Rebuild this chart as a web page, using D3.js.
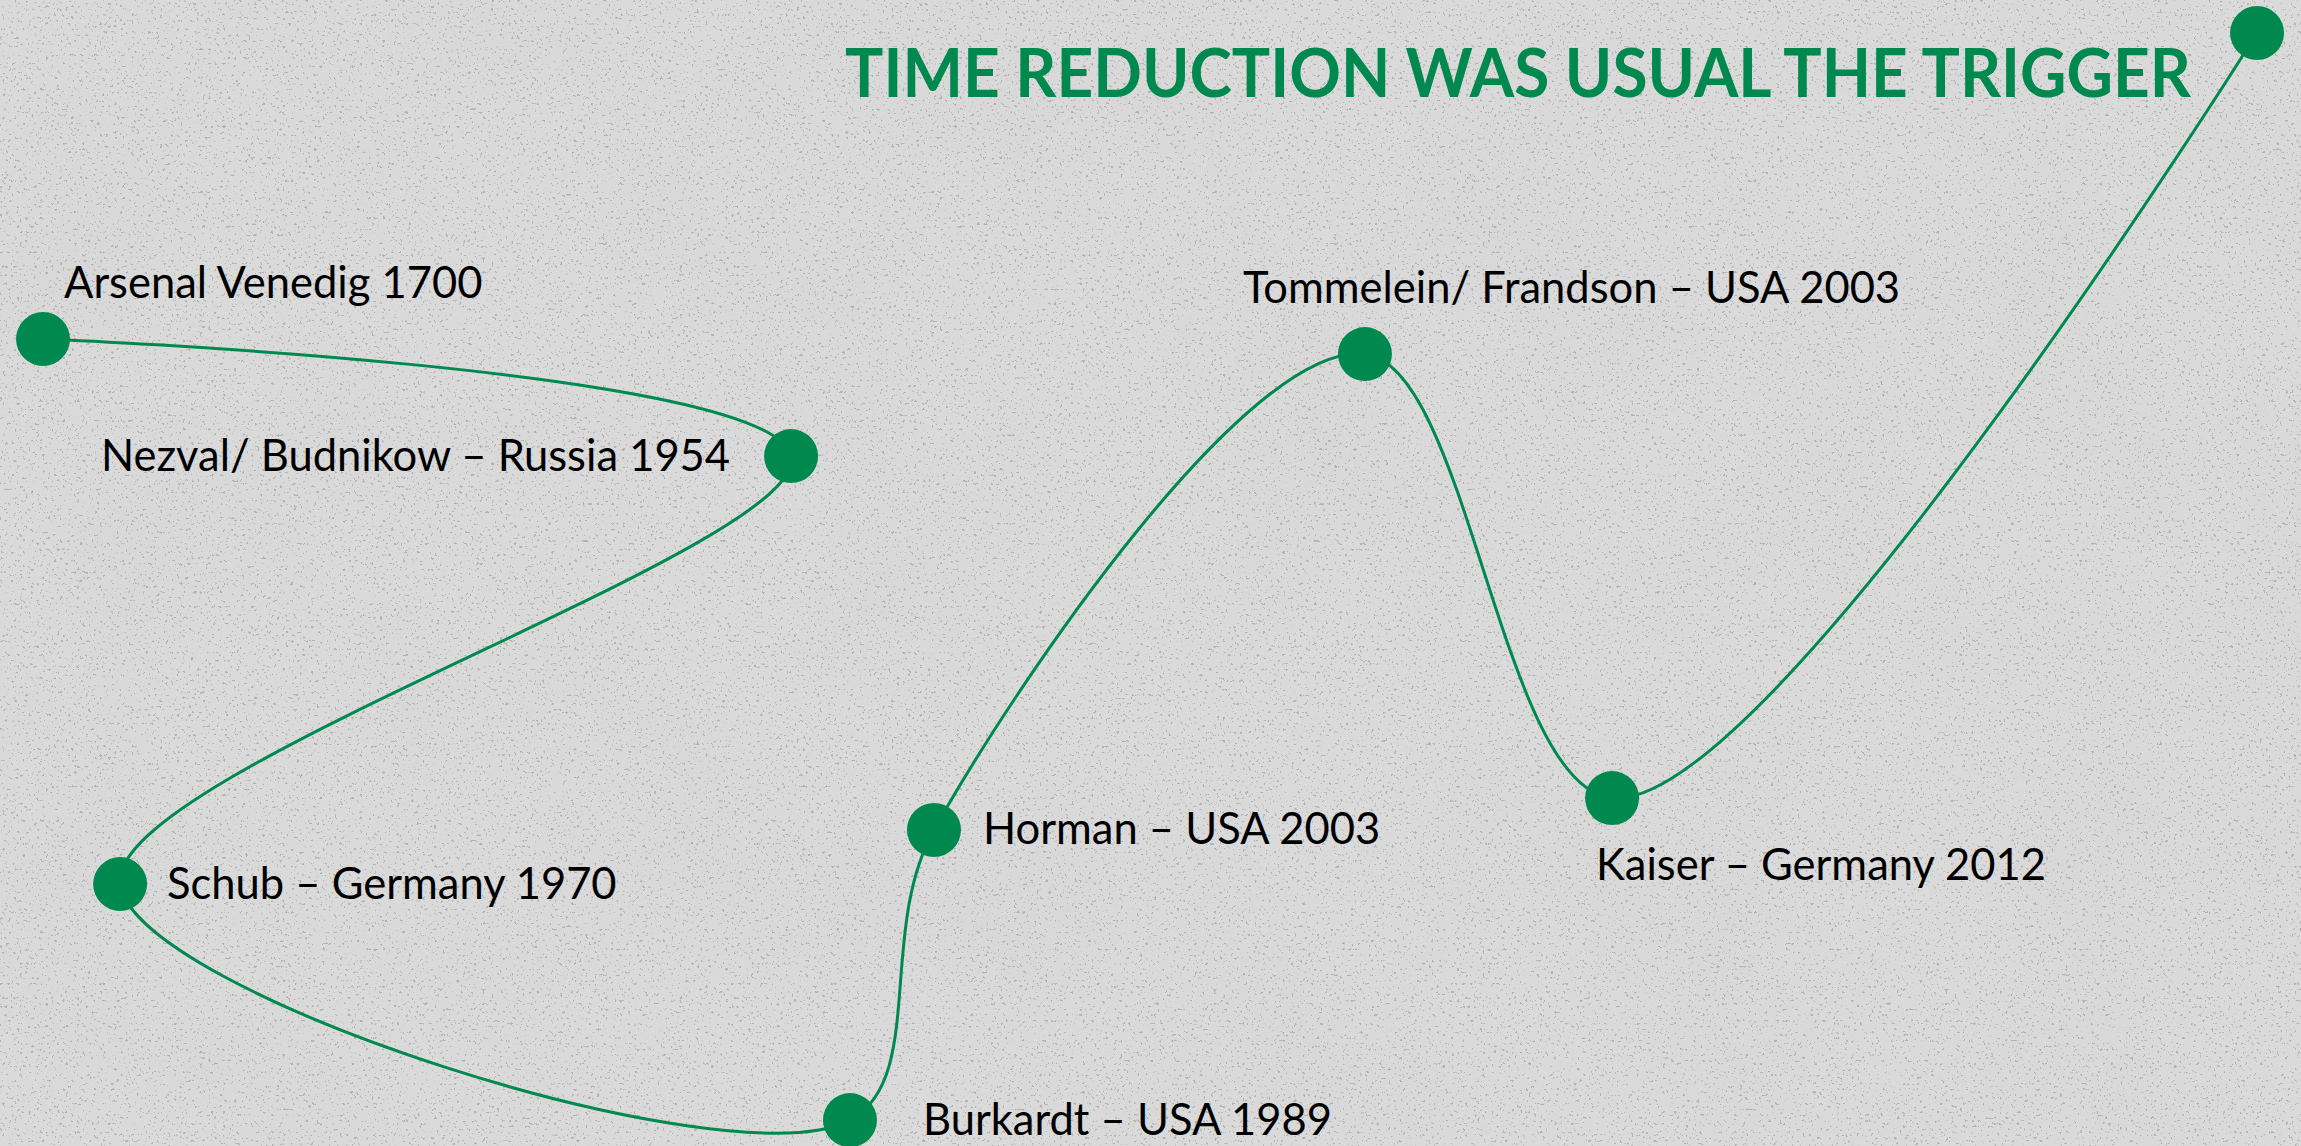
<!DOCTYPE html>
<html>
<head>
<meta charset="utf-8">
<script src="https://cdn.jsdelivr.net/npm/d3@7"></script>
<style>
  html, body { margin: 0; padding: 0; background: #dcdcdc; }
  svg { display: block; }
</style>
</head>
<body>
<script>
// ---- DATA ----
const milestones = [
  "Arsenal Venedig 1700",
  "Nezval/ Budnikow \u2013 Russia 1954",
  "Schub \u2013 Germany 1970",
  "Burkardt \u2013 USA 1989",
  "Horman \u2013 USA 2003",
  "Tommelein/ Frandson \u2013 USA 2003",
  "Kaiser \u2013 Germany 2012",
  ""
];
const xValues = [18.7, 343.8, 52.2, 369.4, 405.9, 593.2, 700.6, 980.9];
const yValues = [352.1, 301.0, 114.3, 11.3, 137.9, 345.5, 151.8, 485.6];
const titleText = "TIME REDUCTION WAS USUAL THE TRIGGER";

// ---- LAYOUT (not data) ----
const W = 2301, H = 1146;
const labelPlace = [
  { dx: 21, dy: -41, anchor: "start" },
  { dx: -61, dy: 15, anchor: "end" },
  { dx: 47, dy: 15, anchor: "start" },
  { dx: 73, dy: 15, anchor: "start" },
  { dx: 49, dy: 14, anchor: "start" },
  { dx: -122, dy: -51, anchor: "start" },
  { dx: -16, dy: 82, anchor: "start" },
  { dx: 0, dy: 0, anchor: "start" }
];
const green = "#00894f";

const svg = d3.select("body").append("svg")
  .attr("width", W).attr("height", H);

// background concrete texture
const defs = svg.append("defs");
const fSpeck = defs.append("filter").attr("id", "speck")
  .attr("x", 0).attr("y", 0).attr("width", "100%").attr("height", "100%");
fSpeck.append("feTurbulence").attr("type", "fractalNoise")
  .attr("baseFrequency", 0.35).attr("numOctaves", 2).attr("seed", 7);
fSpeck.append("feColorMatrix").attr("type", "matrix")
  .attr("values", "0 0 0 0 0.3  0 0 0 0 0.3  0 0 0 0 0.3  -18 0 0 0 6.2");
const fCloud = defs.append("filter").attr("id", "cloud")
  .attr("x", 0).attr("y", 0).attr("width", "100%").attr("height", "100%");
fCloud.append("feTurbulence").attr("type", "fractalNoise")
  .attr("baseFrequency", 0.005).attr("numOctaves", 4).attr("seed", 3);
fCloud.append("feColorMatrix").attr("type", "matrix")
  .attr("values", "0 0 0 0 0.55  0 0 0 0 0.55  0 0 0 0 0.55  0 0 0 0.9 -0.4");
const fFine = defs.append("filter").attr("id", "fine")
  .attr("x", 0).attr("y", 0).attr("width", "100%").attr("height", "100%");
fFine.append("feTurbulence").attr("type", "fractalNoise")
  .attr("baseFrequency", 0.9).attr("numOctaves", 1).attr("seed", 11);
fFine.append("feColorMatrix").attr("type", "matrix")
  .attr("values", "0 0 0 0 1  0 0 0 0 1  0 0 0 0 1  0 0 0 0.6 -0.2");

svg.append("rect").attr("width", W).attr("height", H).attr("fill", "#d9d9d9");
svg.append("rect").attr("width", W).attr("height", H).attr("filter", "url(#cloud)").attr("opacity", 0.25);
svg.append("rect").attr("width", W).attr("height", H).attr("filter", "url(#fine)").attr("opacity", 0.25);
svg.append("rect").attr("width", W).attr("height", H).attr("filter", "url(#speck)").attr("opacity", 0.55);

// scales
const x = d3.scaleLinear().domain([0, 1000]).range([0, W]);
const y = d3.scaleLinear().domain([0, 500]).range([H, 0]);

const pts = milestones.map((m, i) => ({ label: m, x: xValues[i], y: yValues[i], p: labelPlace[i] }));

// title
svg.append("text")
  .attr("x", 845).attr("y", 97)
  .attr("font-family", "Lato, 'Open Sans', sans-serif")
  .attr("font-weight", 700)
  .attr("font-size", 66)
  .attr("fill", green)
  .attr("textLength", 1346)
  .attr("lengthAdjust", "spacingAndGlyphs")
  .text(titleText);

// line
const line = d3.line()
  .x(d => x(d.x)).y(d => y(d.y))
  .curve(d3.curveCatmullRom.alpha(0.5));
svg.append("path").datum(pts)
  .attr("d", line)
  .attr("fill", "none")
  .attr("stroke", green)
  .attr("stroke-width", 3);

// points
svg.append("g").selectAll("circle").data(pts).join("circle")
  .attr("cx", d => x(d.x)).attr("cy", d => y(d.y))
  .attr("r", 27).attr("fill", green);

// labels
svg.append("g").selectAll("text").data(pts.filter(d => d.label)).join("text")
  .attr("x", d => x(d.x) + d.p.dx)
  .attr("y", d => y(d.y) + d.p.dy)
  .attr("text-anchor", d => d.p.anchor)
  .attr("font-family", "Lato, 'Open Sans', sans-serif")
  .attr("font-size", 43.5)
  .attr("fill", "#000")
  .text(d => d.label);
</script>
</body>
</html>
